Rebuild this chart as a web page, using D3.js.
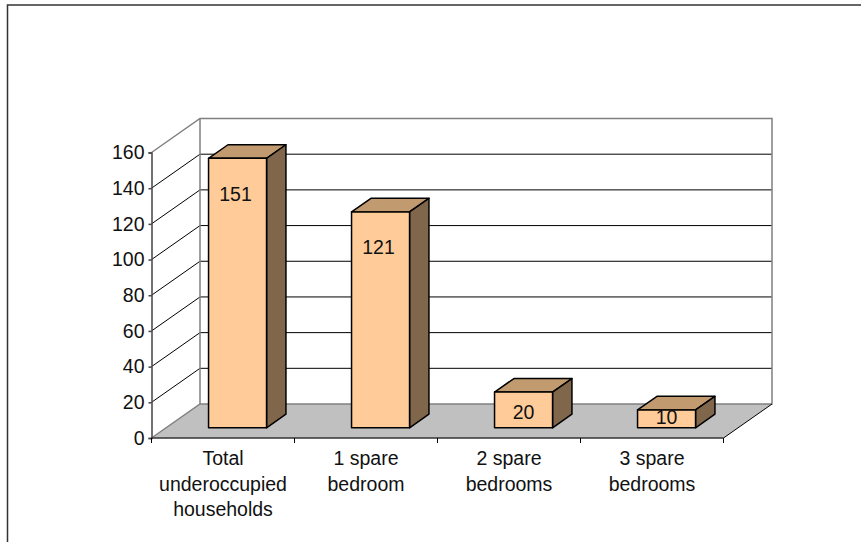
<!DOCTYPE html>
<html>
<head>
<meta charset="utf-8">
<style>
  html, body { margin: 0; padding: 0; background: #fff; }
  svg { display: block; }
  text { font-family: "Liberation Sans", Arial, sans-serif; fill: #111; }
</style>
<script src="https://cdn.jsdelivr.net/npm/d3@7"></script>
</head>
<body>
<div id="chart"></div>
<script>
const categories = [
  ["Total", "underoccupied", "households"],
  ["1 spare", "bedroom"],
  ["2 spare", "bedrooms"],
  ["3 spare", "bedrooms"]
];
const values = [151, 121, 20, 10];
const yTicks = [0, 20, 40, 60, 80, 100, 120, 140, 160];

const svg = d3.select("#chart").append("svg")
  .attr("width", 861)
  .attr("height", 542);

// outer frame, only left and top fall inside the picture
svg.append("path")
  .attr("d", "M7.5,542V5H861")
  .attr("fill", "none")
  .attr("stroke", "#333")
  .attr("stroke-width", 1.5);

const x = d3.scaleBand().domain(d3.range(categories.length)).range([151.5, 723.5]);
const y = d3.scaleLinear().domain([0, 160]).range([438, 152.5]);

// 3d offset of the back wall
const depthX = 48.5, depthY = -34;
// bar placement in the depth of the floor
const barFront = 0.3, barDepth = 0.4, barWidth = 58;
const y0 = y(0);
const fontSize = "19.5px";

const pts = a => a.map(p => p.join(",")).join(" ");

// gridlines
yTicks.filter(d => d > 0 && d < 160).forEach(d => {
  svg.append("path")
    .attr("d", `M${x.range()[0]},${y(d)}L${x.range()[0] + depthX},${y(d) + depthY}H${x.range()[1] + depthX}`)
    .attr("fill", "none")
    .attr("stroke", "#000");
});

// floor
svg.append("polygon")
  .attr("points", pts([[x.range()[0], y0], [x.range()[0] + depthX, y0 + depthY],
    [x.range()[1] + depthX, y0 + depthY], [x.range()[1], y0]]))
  .attr("fill", "#c0c0c0");

// wall edges in gray
svg.append("path")
  .attr("d", `M${x.range()[0]},${y0}L${x.range()[0] + depthX},${y0 + depthY}H${x.range()[1] + depthX}V${y(160) + depthY}H${x.range()[0] + depthX}L${x.range()[0]},${y(160)}M${x.range()[0] + depthX},${y0 + depthY}V${y(160) + depthY}`)
  .attr("fill", "none")
  .attr("stroke", "#808080")
  .attr("stroke-width", 1.5);

svg.append("line")
  .attr("x1", x.range()[1]).attr("y1", y0)
  .attr("x2", x.range()[1] + depthX).attr("y2", y0 + depthY)
  .attr("stroke", "#000");

// bars
const bars = svg.selectAll(".bar")
  .data(values)
  .enter().append("g")
  .attr("class", "bar")
  .attr("stroke", "#000")
  .attr("stroke-width", 1.5)
  .attr("stroke-linejoin", "round");

const left = (d, i) => x(i) + (x.bandwidth() - barWidth) / 2 + barFront * depthX;
const base = y0 + barFront * depthY;
const top3d = d => base - (y0 - y(d));
const dx = barDepth * depthX, dy = barDepth * depthY;

bars.append("polygon")
  .attr("fill", "#c19a6f")
  .attr("points", (d, i) => pts([[left(d, i), top3d(d)], [left(d, i) + dx, top3d(d) + dy],
    [left(d, i) + barWidth + dx, top3d(d) + dy], [left(d, i) + barWidth, top3d(d)]]));

bars.append("polygon")
  .attr("fill", "#80664a")
  .attr("points", (d, i) => pts([[left(d, i) + barWidth, top3d(d)], [left(d, i) + barWidth + dx, top3d(d) + dy],
    [left(d, i) + barWidth + dx, base + dy], [left(d, i) + barWidth, base]]));

bars.append("rect")
  .attr("fill", "#ffcc99")
  .attr("x", (d, i) => left(d, i))
  .attr("y", d => top3d(d))
  .attr("width", barWidth)
  .attr("height", d => base - top3d(d));

// value labels, tall bars keep theirs near the top
svg.selectAll(".bar-label")
  .data(values)
  .enter().append("text")
  .attr("class", "bar-label")
  .attr("x", (d, i) => left(d, i) + barWidth / 2 + (d > 50 ? -2 : 0))
  .attr("y", d => d > 50 ? top3d(d) + 42.5 : d > 15 ? top3d(d) + 27 : top3d(d) + 14)
  .attr("text-anchor", "middle")
  .style("font-size", fontSize)
  .text(d => d);

// axes
const yAxis = svg.append("g")
  .attr("transform", `translate(${x.range()[0]},0)`)
  .call(d3.axisLeft(y).tickValues(yTicks).tickSize(3).tickPadding(4));
yAxis.select(".domain").attr("stroke", "#444").attr("stroke-width", 1.5);
yAxis.selectAll("line").attr("stroke", "#444").attr("stroke-width", 1.5);
yAxis.selectAll("text").style("font-size", fontSize).style("font-family", null).attr("fill", null);
yAxis.attr("font-family", null).attr("font-size", null);

const edges = d3.range(categories.length + 1).map(i => x.range()[0] + i * x.bandwidth());
const xAxisG = svg.append("g")
  .attr("stroke", "#000");
xAxisG.append("line")
  .attr("x1", x.range()[0]).attr("x2", x.range()[1])
  .attr("y1", y0).attr("y2", y0)
  .attr("stroke", "#333").attr("stroke-width", 1.5);
xAxisG.selectAll(".tick")
  .data(edges)
  .enter().append("line")
  .attr("class", "tick")
  .attr("x1", d => d).attr("x2", d => d)
  .attr("y1", y0).attr("y2", y0 + 5);

// category labels
svg.selectAll(".cat")
  .data(categories)
  .enter().append("text")
  .attr("class", "cat")
  .attr("text-anchor", "middle")
  .style("font-size", fontSize)
  .each(function(lines, i) {
    d3.select(this).selectAll("tspan")
      .data(lines)
      .enter().append("tspan")
      .attr("x", x(i) + x.bandwidth() / 2)
      .attr("y", (l, j) => 465 + j * 25.5)
      .text(l => l);
  });
</script>
</body>
</html>
